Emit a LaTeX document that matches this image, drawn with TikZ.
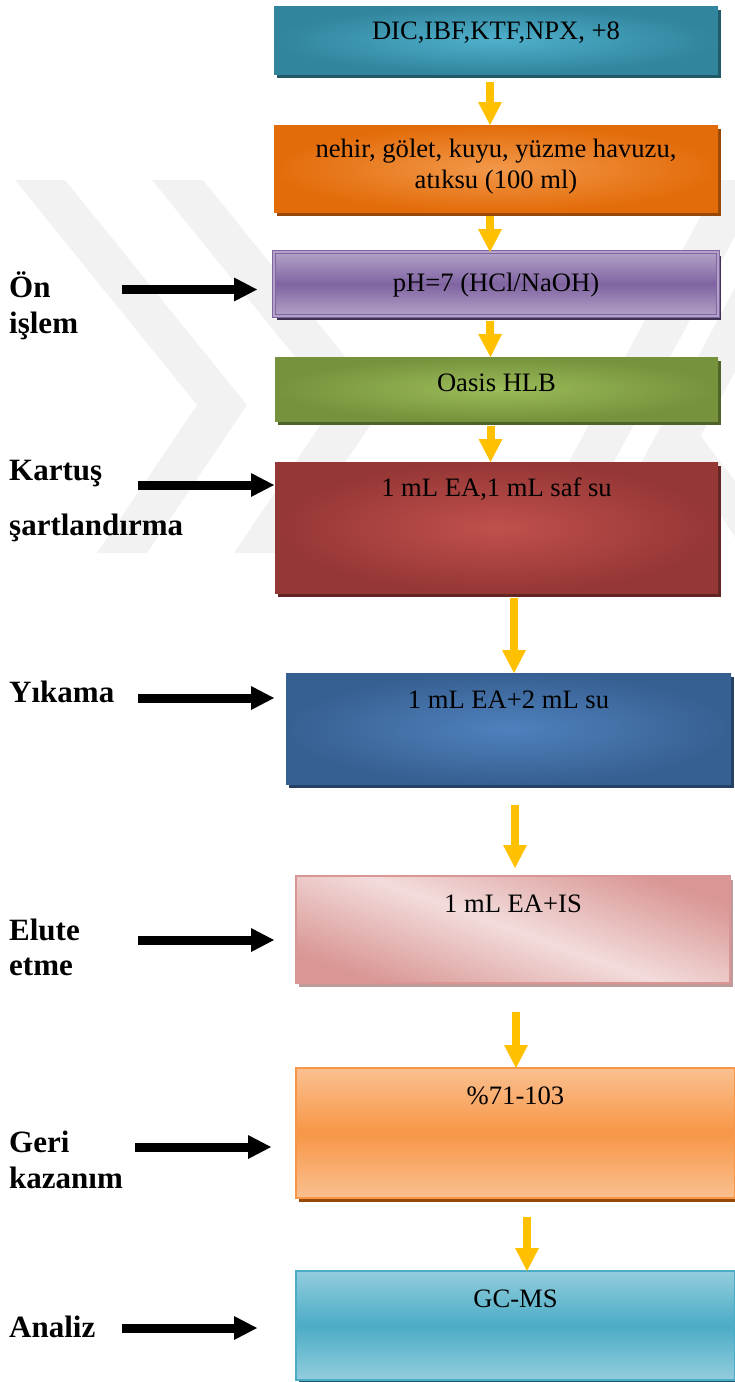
\documentclass[tikz,border=0pt]{standalone}
\usepackage{fontspec}
\setmainfont{Liberation Serif}
\usetikzlibrary{arrows.meta,calc,shadows}

% box fills (dark edge / light centre / shadow)
\definecolor{tealD}{HTML}{31859C}
\definecolor{tealL}{HTML}{4FB0CC}
\definecolor{tealS}{HTML}{215968}
\definecolor{oranD}{HTML}{E36C0A}
\definecolor{oranL}{HTML}{F2984A}
\definecolor{oranS}{HTML}{984807}
\definecolor{purD}{HTML}{8064A2}
\definecolor{purL}{HTML}{B3A2C7}
\definecolor{purS}{HTML}{3F3151}
\definecolor{grnD}{HTML}{76923C}
\definecolor{grnL}{HTML}{9BBB59}
\definecolor{grnS}{HTML}{4F6228}
\definecolor{redD}{HTML}{953735}
\definecolor{redL}{HTML}{C0504D}
\definecolor{redS}{HTML}{632523}
\definecolor{bluD}{HTML}{376092}
\definecolor{bluL}{HTML}{4F81BD}
\definecolor{bluS}{HTML}{244062}
\definecolor{pnkD}{HTML}{D99694}
\definecolor{pnkL}{HTML}{F2DCDB}
\definecolor{pnkS}{HTML}{BF9A9A}
\definecolor{lorD}{HTML}{F79646}
\definecolor{lorL}{HTML}{FAC090}
\definecolor{lblD}{HTML}{4BACC6}
\definecolor{lblL}{HTML}{93CDDD}
\definecolor{arrowY}{HTML}{FFC000}
\definecolor{wmark}{HTML}{F2F2F2}

\begin{document}
\begin{tikzpicture}[x=1pt,y=-1pt,
  box/.style={anchor=north west, inner sep=0pt, outer sep=0pt},
  sh/.style={drop shadow={shadow xshift=3pt, shadow yshift=-4pt, opacity=1, fill=#1}},
  boxtext/.style={anchor=base, inner sep=0pt, font=\fontsize{26.6}{31}\selectfont},
  lab/.style={anchor=base west, inner sep=0pt, font=\bfseries\fontsize{31}{36}\selectfont},
  flow/.style={draw=arrowY, line width=8pt, -{Triangle[width=24pt,length=23pt,line width=0pt]}},
  side/.style={draw=black, line width=9pt, -{Triangle[width=24pt,length=23pt,line width=0pt]}}]

\useasboundingbox (0,0) rectangle (735,1382);

% faint background chevrons
\fill[wmark] (15,180) -- (65,180) -- (247,405) -- (147,553) -- (97,553) -- (197,405) -- cycle;
\fill[wmark] (152,180) -- (203,180) -- (384,405) -- (284,553) -- (234,553) -- (334,405) -- cycle;
\fill[wmark] (720,180) -- (765,180) -- (565,553) -- (520,553) -- cycle;
\fill[wmark] (755,250) -- (800,250) -- (638,553) -- (593,553) -- cycle;
\fill[wmark] (665,428) -- (690,422) -- (790,553) -- (745,553) -- cycle;

% process boxes
\node[box, sh=tealS, minimum width=444pt, minimum height=68pt,
      inner color=tealL, outer color=tealD] (n1) at (274,6) {};
\node[box, sh=oranS, minimum width=444pt, minimum height=87pt,
      inner color=oranL, outer color=oranD] (n2) at (274,125) {};
\node[box, sh=purS, minimum width=444pt, minimum height=64pt,
      top color=purL, bottom color=purL, middle color=purD,
      draw=purD, double=purL, double distance=2pt, line width=0.6pt] (n3) at (274,252) {};
\node[box, sh=grnS, minimum width=443pt, minimum height=64pt,
      inner color=grnL, outer color=grnD] (n4) at (275,357) {};
\node[box, sh=redS, minimum width=443pt, minimum height=131pt,
      inner color=redL, outer color=redD] (n5) at (275,462) {};
\node[box, sh=bluS, minimum width=445pt, minimum height=111pt,
      inner color=bluL, outer color=bluD] (n6) at (286,673) {};
\node[box, sh=pnkS, minimum width=434pt, minimum height=107pt,
      top color=pnkD, bottom color=pnkD, middle color=pnkL, shading angle=-20,
      draw=pnkD, line width=2pt] (n7) at (296,876) {};
\node[box, sh=oranS, minimum width=439pt, minimum height=130pt,
      top color=lorL, bottom color=lorL, middle color=lorD,
      draw=lorD, line width=2pt] (n8) at (296,1068) {};
\node[box, sh=tealS, minimum width=439pt, minimum height=109pt,
      top color=lblL, bottom color=lblL, middle color=lblD,
      draw=lblD, line width=2pt] (n9) at (296,1271) {};

% box texts
\node[boxtext] (t1) at (n1.north |- 0,39) {DIC,IBF,KTF,NPX, +8};
\node[boxtext] (t2a) at (n2.north |- 0,157) {nehir, gölet, kuyu, yüzme havuzu,};
\node[boxtext] (t2b) at (n2.north |- 0,188) {atıksu (100 ml)};
\node[boxtext] (t3) at (n3.north |- 0,291) {pH=7 (HCl/NaOH)};
\node[boxtext] (t4) at (n4.north |- 0,391) {Oasis HLB};
\node[boxtext] (t5) at (n5.north |- 0,496) {1 mL EA,1 mL saf su};
\node[boxtext] (t6) at (n6.north |- 0,708) {1 mL EA+2 mL su};
\node[boxtext] (t7) at (n7.north |- 0,912) {1 mL EA+IS};
\node[boxtext] (t8) at (n8.north |- 0,1104) {\%71-103};
\node[boxtext] (t9) at (n9.north |- 0,1307) {GC-MS};

% flow arrows
\draw[flow] ($(n1.south)+(-6,8)$) -- ($(n2.north)+(-6,0)$);
\draw[flow] ($(n2.south)+(-6,4)$) -- ($(n3.north)+(-6,0)$);
\draw[flow] ($(n3.south)+(-6,5)$) -- ($(n4.north)+(-6,0)$);
\draw[flow] ($(n4.south)+(-6,5)$) -- ($(n5.north)+(-6,0)$);
\draw[flow] ($(n5.south)+(17.5,5)$) -- ($(n6.north)+(5.5,0)$);
\draw[flow] ($(n6.south)+(6.5,21)$) -- ($(n7.north)+(2,-8)$);
\draw[flow] ($(n7.south)+(3,29)$) -- ($(n8.north)+(0.5,0)$);
\draw[flow] ($(n8.south)+(11.5,19)$) -- ($(n9.north)+(11.5,0)$);

% step labels
\node[lab] (l1a) at (9,297) {Ön};
\node[lab] (l1b) at (9,333) {işlem};
\node[lab] (l2a) at (9,480) {Kartuş};
\node[lab] (l2b) at (9,535) {şartlandırma};
\node[lab] (l3) at (9,702) {Yıkama};
\node[lab] (l4a) at (9,940) {Elute};
\node[lab] (l4b) at (9,975) {etme};
\node[lab] (l5a) at (9,1152) {Geri};
\node[lab] (l5b) at (9,1188) {kazanım};
\node[lab] (l6) at (9,1337) {Analiz};

% label pointers
\coordinate (b1s) at (122,289.5); \coordinate (b1e) at (257,289.5);
\coordinate (b2s) at (138,485);   \coordinate (b2e) at (274,485);
\coordinate (b3s) at (138,698);   \coordinate (b3e) at (274,698);
\coordinate (b4s) at (138,940);   \coordinate (b4e) at (274,940);
\coordinate (b5s) at (135,1147);  \coordinate (b5e) at (271,1147);
\coordinate (b6s) at (122,1328);  \coordinate (b6e) at (257,1328);
\draw[side] (b1s) -- (b1e);
\draw[side] (b2s) -- (b2e);
\draw[side] (b3s) -- (b3e);
\draw[side] (b4s) -- (b4e);
\draw[side] (b5s) -- (b5e);
\draw[side] (b6s) -- (b6e);
\end{tikzpicture}
\end{document}
